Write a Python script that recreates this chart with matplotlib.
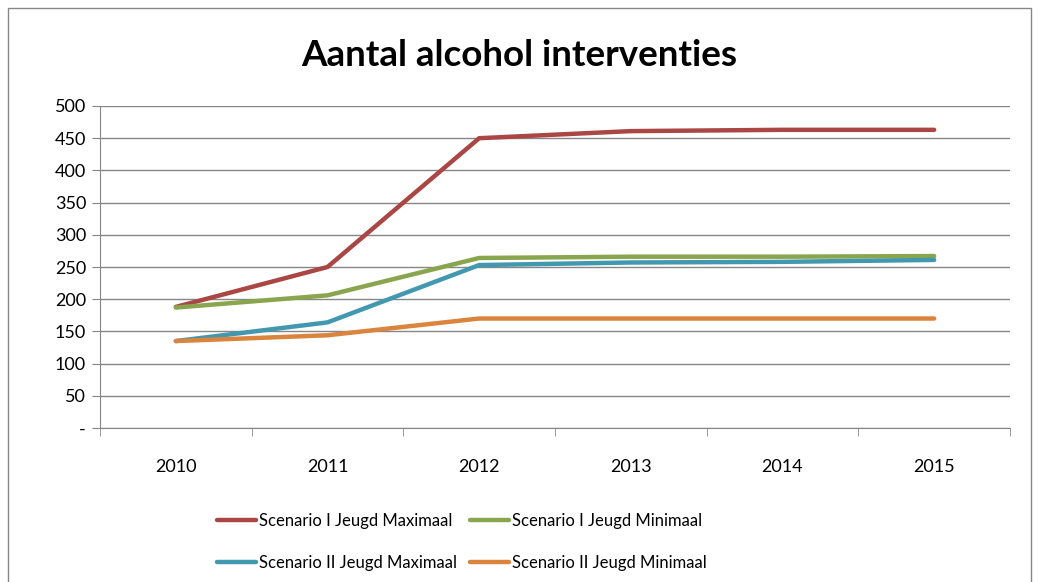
import matplotlib
matplotlib.use("Agg")
import matplotlib.pyplot as plt
from matplotlib.patches import Rectangle

years = ["2010", "2011", "2012", "2013", "2014", "2015"]
s1_max = [188, 250, 450, 461, 463, 463]
s1_min = [187, 206, 264, 266, 266, 267]
s2_max = [135, 164, 253, 257, 258, 261]
s2_min = [135, 144, 170, 170, 170, 170]
labels = ["Scenario I Jeugd Maximaal", "Scenario I Jeugd Minimaal",
          "Scenario II Jeugd Maximaal", "Scenario II Jeugd Minimaal"]
colors = ["#AA4643", "#89A54E", "#4198AF", "#DB843D"]
yticks = [0, 50, 100, 150, 200, 250, 300, 350, 400, 450, 500]
ytick_labels = ["-"] + [str(v) for v in yticks[1:]]

plt.rcParams['font.family'] = ['Lato', 'DejaVu Sans']

W, H = 1039, 582
fig = plt.figure(figsize=(W / 100, H / 100), dpi=100)
fig.patches.append(Rectangle((8 / W, -0.01), (1031 - 8) / W, 1 - 8 / H + 0.01,
                             transform=fig.transFigure, fill=False,
                             edgecolor="#868686", linewidth=1))

ax = fig.add_axes([100 / W, 1 - 428 / H, (1010 - 100) / W, (428 - 106) / H])
x = list(range(len(years)))
series = [s1_max, s1_min, s2_max, s2_min]
handles = []
for vals, c, lab in zip(series, colors, labels):
    h, = ax.plot(x, vals, color=c, linewidth=3.2, solid_capstyle='round', label=lab)
    handles.append(h)

ax.set_xlim(-0.5, len(years) - 0.5)
ax.set_ylim(0, 500)
ax.set_yticks(yticks)
ax.set_yticklabels(ytick_labels, fontsize=13)
ax.set_xticks(x)
ax.set_xticklabels(years, fontsize=13)
ax.set_xticks([i - 0.5 for i in range(len(years) + 1)], minor=True)
ax.tick_params(axis='x', which='major', length=0, pad=22)
ax.tick_params(axis='x', which='minor', length=6, color="#868686", direction='out')
ax.tick_params(axis='y', length=6, color="#868686", direction='out', pad=4)
ax.grid(axis='y', color="#868686", linewidth=1)
ax.set_axisbelow(True)
for side in ["top", "right"]:
    ax.spines[side].set_visible(False)
for side in ["left", "bottom"]:
    ax.spines[side].set_color("#868686")

fig.text(0.5, 1 - 55 / H, "Aantal alcohol interventies", ha='center', va='center',
         fontsize=26.5, fontweight='bold')

order = [0, 2, 1, 3]
fig.legend([handles[i] for i in order], [labels[i] for i in order],
           loc='center', bbox_to_anchor=(462 / W, 1 - 542 / H), ncol=2, frameon=False,
           fontsize=12, handlelength=2.3, handletextpad=0.2, columnspacing=0.8,
           labelspacing=1.55)

fig.savefig("out.png", dpi=100)
